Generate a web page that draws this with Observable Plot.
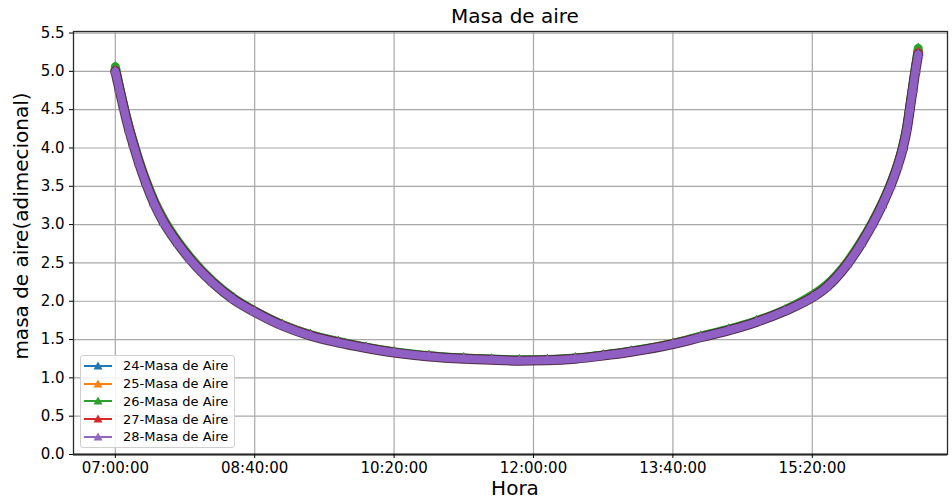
<!DOCTYPE html>
<html>
<head>
<meta charset="utf-8">
<script src="https://cdn.jsdelivr.net/npm/d3@7"></script>
<script src="https://cdn.jsdelivr.net/npm/@observablehq/plot@0.6"></script>
<style>
  body { margin: 0; background: #fff; font-family: "DejaVu Sans", sans-serif; }
  #wrap { position: relative; width: 952px; height: 501px; overflow: hidden; }
  #title { position: absolute; left: 415px; top: 4px; width: 200px; text-align: center; font-size: 20px; line-height: 24px; color: #000; }
  #chart { position: absolute; left: 0; top: 25px; }
  #ylab { position: absolute; left: 21px; top: 226px; transform: translate(-50%, -50%) rotate(-90deg); white-space: nowrap; font-size: 20px; color: #000; }
  #xlab { position: absolute; left: 515px; top: 488px; transform: translate(-50%, -50%); font-size: 20px; line-height: 22px; color: #000; }
  #legend { position: absolute; left: 80px; top: 355px; width: 153px; padding: 1px 0; background: rgba(255,255,255,0.85); border: 1px solid #cfcfcf; border-radius: 3px; font-size: 13px; color: #000; }
  .row { height: 17.75px; display: flex; align-items: center; }
  .row svg { margin-left: 2px; margin-right: 10px; }
</style>
</head>
<body>
<div id="wrap">
  <div id="title">Masa de aire</div>
  <div id="chart"></div>
  <div id="ylab">masa de aire(adimecional)</div>
  <div id="xlab">Hora</div>
  <div id="legend"></div>
</div>
<script>
const times = ["07:00","07:03","07:06","07:10","07:13","07:17","07:22","07:28","07:35","07:45",
  "07:54","08:10","08:25","08:40","09:00","09:20","09:40","10:00","10:20","10:45",
  "11:10","11:30","11:50","12:10","12:30","12:50","13:10","13:40","14:00","14:20",
  "14:40","15:00","15:20","15:30","15:45","15:55","16:03","16:10","16:16","16:21",
  "16:25","16:28","16:30","16:32","16:34","16:36"];

const m24 = [5.02,4.78,4.54,4.25,4.06,3.82,3.56,3.29,3.04,2.76,2.55,2.25,2.03,1.87,1.69,1.56,1.47,1.395,1.335,1.285,1.255,1.24,1.23,1.235,1.255,1.295,1.345,1.445,1.535,1.625,1.735,1.875,2.06,2.19,2.49,2.76,3.01,3.26,3.51,3.76,4.01,4.27,4.52,4.77,5.02,5.25];
const m25 = [5.04,4.79,4.55,4.26,4.07,3.83,3.57,3.30,3.05,2.77,2.56,2.25,2.03,1.87,1.69,1.56,1.47,1.395,1.335,1.285,1.255,1.24,1.23,1.235,1.255,1.295,1.345,1.45,1.54,1.63,1.74,1.88,2.07,2.20,2.50,2.77,3.02,3.27,3.52,3.77,4.02,4.28,4.53,4.78,5.03,5.27];
const m26 = [5.06,4.80,4.56,4.27,4.08,3.84,3.58,3.31,3.06,2.78,2.57,2.26,2.04,1.875,1.695,1.565,1.475,1.40,1.34,1.29,1.26,1.245,1.235,1.24,1.26,1.30,1.35,1.45,1.545,1.635,1.745,1.885,2.08,2.21,2.51,2.78,3.03,3.28,3.53,3.78,4.04,4.30,4.55,4.80,5.05,5.30];
const m27 = [5.01,4.77,4.53,4.24,4.05,3.81,3.55,3.28,3.03,2.755,2.545,2.245,2.025,1.865,1.685,1.555,1.465,1.39,1.33,1.28,1.25,1.235,1.225,1.23,1.25,1.29,1.34,1.44,1.53,1.62,1.73,1.87,2.055,2.185,2.485,2.755,3.005,3.255,3.505,3.755,4.005,4.265,4.515,4.765,5.015,5.24];
const m28 = [5.00,4.76,4.52,4.23,4.04,3.80,3.54,3.27,3.02,2.75,2.54,2.24,2.02,1.86,1.68,1.55,1.46,1.39,1.33,1.28,1.25,1.235,1.225,1.23,1.25,1.29,1.34,1.44,1.53,1.62,1.73,1.87,2.05,2.18,2.48,2.75,3.00,3.25,3.50,3.75,4.00,4.26,4.51,4.76,5.01,5.22];

const seriesNames = ["24-Masa de Aire","25-Masa de Aire","26-Masa de Aire","27-Masa de Aire","28-Masa de Aire"];
const seriesValues = [m24, m25, m26, m27, m28];
const seriesColors = ["#1f77b4","#ff7f0e","#2ca02c","#d62728","#9467bd"];

const xTickLabels = ["07:00:00","08:40:00","10:20:00","12:00:00","13:40:00","15:20:00"];
const yTickValues = [0.0,0.5,1.0,1.5,2.0,2.5,3.0,3.5,4.0,4.5,5.0,5.5];
const xDomainLabels = ["06:30:00","16:57:00"];

const toDate = s => new Date(`2000-01-01T${s.length === 5 ? s + ":00" : s}Z`);
const xTicks = xTickLabels.map(toDate);

const marks = [
  Plot.gridX(xTicks, {stroke: "#a8a8a8", strokeOpacity: 1, strokeWidth: 1.2}),
  Plot.gridY(yTickValues, {stroke: "#a8a8a8", strokeOpacity: 1, strokeWidth: 1.2})
];
seriesNames.forEach((name, k) => {
  const rows = times.map((t, i) => ({t: toDate(t), v: seriesValues[k][i]}));
  const last = k === seriesNames.length - 1;
  if (last) {
    marks.push(Plot.line(rows, {x: "t", y: "v", stroke: "#3a2540", strokeWidth: 10, strokeOpacity: 0.85, curve: "monotone-x"}));
  }
  marks.push(Plot.line(rows, {x: "t", y: "v", stroke: last ? "#8f5fc3" : seriesColors[k], strokeWidth: last ? 8 : 9, curve: "monotone-x"}));
  marks.push(Plot.dot(rows, {x: "t", y: "v", symbol: "triangle", r: 3.8, fill: last ? "#8f5fc3" : seriesColors[k], stroke: "none"}));
});
marks.push(Plot.frame({stroke: "#2a2a2a", strokeWidth: 1.3}));
marks.push(Plot.ruleY([0], {stroke: "#2a2a2a", strokeWidth: 2}));
marks.push(Plot.axisX(xTicks, {tickFormat: d3.utcFormat("%H:%M:%S"), tickSize: 4, tickPadding: 4, fontSize: 15, label: null}));
marks.push(Plot.axisY(yTickValues, {tickFormat: d3.format(".1f"), tickSize: 4, tickPadding: 5, fontSize: 15, label: null}));

const chart = Plot.plot({
  width: 952,
  height: 476,
  marginLeft: 73,
  marginRight: 5,
  marginTop: 6,
  marginBottom: 47,
  style: {fontFamily: "DejaVu Sans", fontSize: "15px", color: "#000", background: "transparent", overflow: "visible"},
  x: {type: "utc", domain: xDomainLabels.map(toDate)},
  y: {domain: [0, 5.52]},
  marks
});
document.getElementById("chart").appendChild(chart);

const legend = document.getElementById("legend");
seriesNames.forEach((name, k) => {
  const row = document.createElement("div");
  row.className = "row";
  const c = seriesColors[k];
  row.innerHTML = `<svg width="30" height="12"><line x1="1" y1="6" x2="29" y2="6" stroke="${c}" stroke-width="2"/><path d="M15,1.5 L19.5,9.5 L10.5,9.5 Z" fill="${c}"/></svg><span>${name}</span>`;
  legend.appendChild(row);
});
</script>
</body>
</html>
